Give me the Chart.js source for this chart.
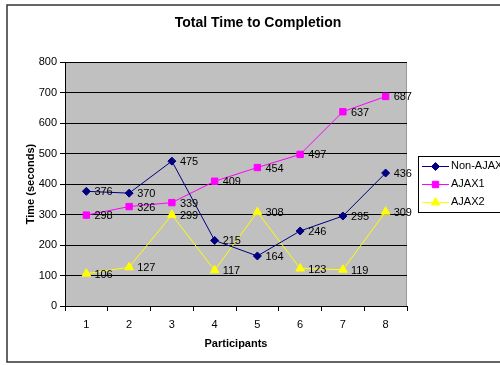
<!DOCTYPE html>
<html>
<head>
<meta charset="utf-8">
<script src="https://cdn.jsdelivr.net/npm/chart.js@4/dist/chart.umd.min.js"></script>
<style>
  html, body { margin: 0; padding: 0; background: #fff; }
  #wrap { width: 500px; height: 365px; position: relative; }
</style>
</head>
<body>
<div id="wrap"><canvas id="chart" width="500" height="365"></canvas></div>
<script>
// chart data
const participants = ["1", "2", "3", "4", "5", "6", "7", "8"];
const nonAjax = [376, 370, 475, 215, 164, 246, 295, 436];
const ajax1 = [298, 326, 339, 409, 454, 497, 637, 687];
const ajax2 = [106, 127, 299, 117, 308, 123, 119, 309];
const seriesNames = ["Non-AJAX", "AJAX1", "AJAX2"];

const FONT = "'Liberation Sans', Arial, sans-serif";
Chart.defaults.font.family = FONT;
Chart.defaults.color = "#000";

// gray plot background, outer frame, title
const frame = {
  id: "frame",
  beforeDraw(chart) {
    const ctx = chart.ctx;
    const a = chart.chartArea;
    ctx.save();
    ctx.fillStyle = "#fff";
    ctx.fillRect(0, 0, chart.width, chart.height);
    ctx.fillStyle = "#c0c0c0";
    ctx.fillRect(a.left, a.top, a.right - a.left, a.bottom - a.top);
    ctx.strokeStyle = "#999";
    ctx.lineWidth = 1;
    ctx.strokeRect(a.left + 0.5, a.top + 0.5, a.right - a.left - 1, a.bottom - a.top);
    ctx.restore();
  },
  afterDraw(chart) {
    const ctx = chart.ctx;
    ctx.save();
    ctx.strokeStyle = "#333";
    ctx.lineWidth = 1.5;
    ctx.strokeRect(7, 5, 600, 357);
    ctx.fillStyle = "#000";
    ctx.font = "bold 14px " + FONT;
    ctx.textAlign = "center";
    ctx.textBaseline = "middle";
    ctx.fillText("Total Time to Completion", 258, 23);
    ctx.restore();
  }
};

// value labels next to each point
const valueLabels = {
  id: "valueLabels",
  afterDatasetsDraw(chart) {
    const ctx = chart.ctx;
    ctx.save();
    ctx.font = "11px " + FONT;
    ctx.fillStyle = "#000";
    ctx.textAlign = "left";
    ctx.textBaseline = "middle";
    chart.data.datasets.forEach((ds, i) => {
      chart.getDatasetMeta(i).data.forEach((pt, j) => {
        ctx.fillText(String(ds.data[j]), pt.x + 8, pt.y + 1);
      });
    });
    ctx.restore();
  }
};

// boxed legend on the right
const boxLegend = {
  id: "boxLegend",
  afterDraw(chart) {
    const ctx = chart.ctx;
    ctx.save();
    ctx.fillStyle = "#fff";
    ctx.fillRect(418, 156, 100, 56);
    ctx.strokeStyle = "#000";
    ctx.lineWidth = 1;
    ctx.strokeRect(418.5, 156.5, 100, 56);
    ctx.font = "11px " + FONT;
    ctx.textBaseline = "middle";
    chart.data.datasets.forEach((ds, i) => {
      const y = 166 + i * 18;
      ctx.strokeStyle = ds.borderColor;
      ctx.beginPath();
      ctx.moveTo(422, y + 0.5);
      ctx.lineTo(449, y + 0.5);
      ctx.stroke();
      ctx.fillStyle = ds.borderColor;
      Chart.helpers.drawPoint(ctx, { pointStyle: ds.pointStyle, radius: ds.pointRadius, rotation: 0, borderWidth: 1 }, 435.5, y + 0.5);
      ctx.fillStyle = "#000";
      ctx.fillText(seriesNames[i], 451, y);
    });
    ctx.restore();
  }
};

const ctx = document.getElementById("chart").getContext("2d");
const chart = new Chart(ctx, {
  type: "line",
  data: {
    labels: participants,
    datasets: [
      {
        label: seriesNames[0],
        data: nonAjax,
        borderColor: "#000080",
        backgroundColor: "#000080",
        pointStyle: "rectRot",
        pointRadius: 4,
        borderWidth: 1,
        tension: 0
      },
      {
        label: seriesNames[1],
        data: ajax1,
        borderColor: "#ff00ff",
        backgroundColor: "#ff00ff",
        pointStyle: "rect",
        pointRadius: 4.5,
        borderWidth: 1,
        tension: 0
      },
      {
        label: seriesNames[2],
        data: ajax2,
        borderColor: "#ffff00",
        backgroundColor: "#ffff00",
        pointStyle: "triangle",
        pointRadius: 5,
        borderWidth: 1,
        tension: 0
      }
    ]
  },
  options: {
    responsive: false,
    animation: false,
    layout: { padding: { left: 20, top: 62, right: 93, bottom: 10 } },
    plugins: {
      legend: { display: false },
      title: { display: false },
      tooltip: { enabled: false }
    },
    scales: {
      x: {
        offset: true,
        grid: {
          offset: true,
          drawOnChartArea: false,
          drawTicks: true,
          tickLength: 5,
          color: "#000"
        },
        border: { color: "#000", width: 1 },
        ticks: { font: { size: 11 }, padding: 7, color: "#000" },
        title: {
          display: true,
          text: "Participants",
          font: { size: 11, weight: "bold" },
          color: "#000",
          padding: { top: 4, bottom: 4 }
        },
        afterFit(scale) { scale.height = 49; }
      },
      y: {
        min: 0,
        max: 800,
        ticks: { stepSize: 100, font: { size: 11 }, padding: 3, color: "#000" },
        grid: { color: "#000", tickLength: 5, lineWidth: 1 },
        border: { color: "#000", width: 1 },
        title: {
          display: true,
          text: "Time (seconds)",
          font: { size: 11, weight: "bold" },
          color: "#000",
          padding: { top: 4, bottom: 4 }
        },
        afterFit(scale) { scale.width = 45; }
      }
    }
  },
  plugins: [frame, valueLabels, boxLegend]
});
</script>
</body>
</html>
